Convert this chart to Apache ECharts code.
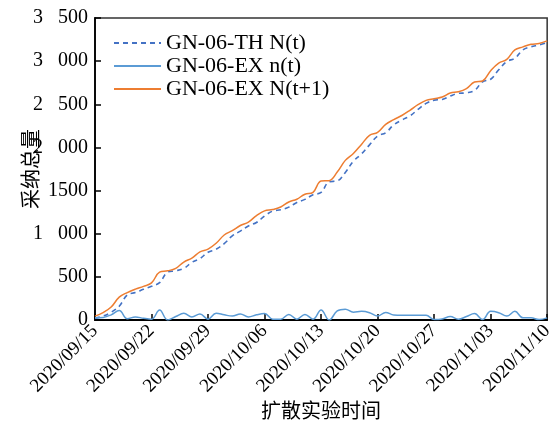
<!DOCTYPE html>
<html>
<head>
<meta charset="utf-8">
<script src="https://cdn.jsdelivr.net/npm/echarts@6/dist/echarts.min.js"></script>
<style>html,body{margin:0;padding:0;background:#fff}#c{width:556px;height:436px}</style>
</head>
<body>
<div id="c"></div>
<script>
const dates = ['2020/09/15','2020/09/16','2020/09/17','2020/09/18','2020/09/19','2020/09/20','2020/09/21','2020/09/22','2020/09/23','2020/09/24','2020/09/25','2020/09/26','2020/09/27','2020/09/28','2020/09/29','2020/09/30','2020/10/01','2020/10/02','2020/10/03','2020/10/04','2020/10/05','2020/10/06','2020/10/07','2020/10/08','2020/10/09','2020/10/10','2020/10/11','2020/10/12','2020/10/13','2020/10/14','2020/10/15','2020/10/16','2020/10/17','2020/10/18','2020/10/19','2020/10/20','2020/10/21','2020/10/22','2020/10/23','2020/10/24','2020/10/25','2020/10/26','2020/10/27','2020/10/28','2020/10/29','2020/10/30','2020/10/31','2020/11/01','2020/11/02','2020/11/03','2020/11/04','2020/11/05','2020/11/06','2020/11/07','2020/11/08','2020/11/09','2020/11/10'];
const thN = [20,45,90,160,290,318,355,390,432,555,570,598,668,712,785,820,885,975,1030,1090,1130,1205,1262,1278,1308,1362,1398,1452,1478,1602,1612,1710,1840,1925,2030,2132,2170,2262,2318,2365,2440,2510,2548,2556,2595,2626,2633,2660,2761,2790,2900,2996,3033,3130,3167,3186,3215];
const exn = [25,30,60,110,15,35,20,10,115,0,40,78,35,70,10,78,60,45,70,35,60,75,10,10,65,10,65,10,115,0,105,125,90,100,85,45,88,58,55,55,55,55,5,12,40,10,40,75,5,100,85,45,100,25,25,5,25];
const exN1 = [45,85,150,265,318,358,390,430,555,570,598,672,718,790,822,889,985,1035,1095,1135,1210,1265,1280,1310,1368,1400,1458,1480,1610,1615,1715,1850,1930,2035,2140,2175,2268,2322,2370,2430,2495,2545,2565,2585,2630,2645,2682,2758,2770,2890,2978,3020,3130,3165,3195,3205,3235];
const yTickLabels = {0:'0',500:'500',1000:'1\u2002 000',1500:'1500',2000:'2\u2002 000',2500:'2\u2002 500',3000:'3\u2002 000',3500:'3\u2002 500'};
const names = ['GN-06-TH N(t)','GN-06-EX n(t)','GN-06-EX N(t+1)'];

const serif = 'Liberation Serif, DejaVu Serif, serif';
const cjk = 'Noto Sans CJK SC, sans-serif';
const chart = echarts.init(document.getElementById('c'), null, {renderer:'canvas'});
chart.setOption({
  animation:false,
  backgroundColor:'#fff',
  textStyle:{fontFamily:serif},
  grid:{left:95,right:5,top:18,bottom:116,show:true,borderColor:'#333',borderWidth:1.5,backgroundColor:'transparent'},
  legend:{
    orient:'vertical',left:108,top:27,itemGap:1,itemWidth:47,itemHeight:10,
    itemStyle:{opacity:0},
    textStyle:{fontFamily:serif,fontSize:22,color:'#000'},
    data:names
  },
  xAxis:{
    type:'category',data:dates,boundaryGap:false,
    axisLine:{lineStyle:{color:'#000',width:1.8}},
    axisTick:{inside:true,interval:6,length:6,lineStyle:{color:'#000',width:1.5}},
    axisLabel:{interval:6,rotate:45,fontFamily:serif,fontSize:19,color:'#000',margin:8},
    name:'扩散实验时间',nameLocation:'middle',nameGap:80,nameMoveOverlap:false,
    nameTextStyle:{fontFamily:cjk,fontSize:20,color:'#000'}
  },
  yAxis:{
    type:'value',min:0,max:3500,interval:500,
    splitLine:{show:false},
    axisLine:{show:true,lineStyle:{color:'#000',width:1.8}},
    axisTick:{show:true,inside:true,length:6,lineStyle:{color:'#000',width:1.5}},
    axisLabel:{fontFamily:serif,fontSize:20,color:'#000',margin:7,formatter:v=>yTickLabels[v]},
    name:'采纳总量',nameLocation:'middle',nameGap:55,nameRotate:90,nameMoveOverlap:false,
    nameTextStyle:{fontFamily:cjk,fontSize:20,color:'#000'}
  },
  series:[
    {name:names[0],type:'line',data:thN,smooth:0.4,symbol:'none',
     lineStyle:{color:'#4472C4',width:1.6,type:[5,4]},itemStyle:{color:'#4472C4'}},
    {name:names[1],type:'line',data:exn,smooth:0.4,symbol:'none',
     lineStyle:{color:'#5B9BD5',width:1.5},itemStyle:{color:'#5B9BD5'}},
    {name:names[2],type:'line',data:exN1,smooth:0.4,symbol:'none',
     lineStyle:{color:'#ED7D31',width:1.5},itemStyle:{color:'#ED7D31'}}
  ]
});
</script>
</body>
</html>
